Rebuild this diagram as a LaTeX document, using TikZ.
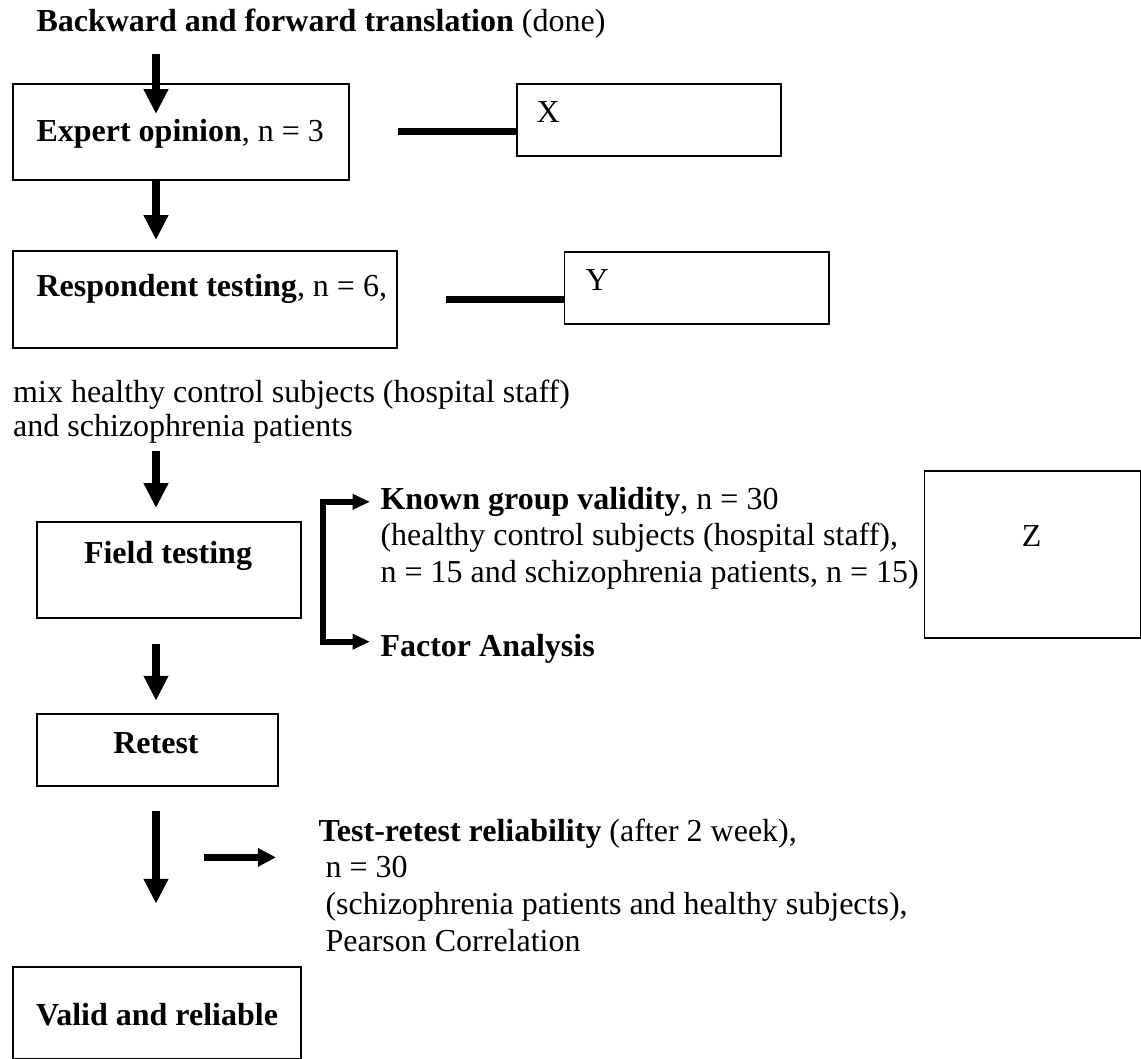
\documentclass[tikz,border=0pt]{standalone}
\usepackage{fontspec}
\setmainfont{Liberation Serif}
\usetikzlibrary{arrows.meta,calc}

\tikzset{
  box/.style 2 args={draw, line width=0.7pt, inner sep=0pt, anchor=north west,
    minimum width=#1*0.375pt, minimum height=#2*0.375pt},
  txt/.style={inner sep=0pt, anchor=base west},
  para/.style={inner sep=0pt, anchor=north west, align=left},
  flow/.style={line width=2.7pt, -{Triangle[length=9.3pt,width=8.7pt]}},
  side/.style={line width=2.4pt, -{Triangle[length=6.8pt,width=6.6pt]}},
  link/.style={line width=2.6pt},
  branch/.style={line width=2.4pt, {Triangle[length=6.5pt,width=5.5pt]}-{Triangle[length=6.5pt,width=5.5pt]}}
}

\begin{document}
\begin{tikzpicture}[x=0.375pt, y=-0.375pt, font=\fontsize{12}{13.8}\selectfont]
    \useasboundingbox (0,0) rectangle (1141,1059);
    \coordinate (spine) at (156,0);

    % main column
    \node[txt] (title) at (36,32) {\textbf{Backward and forward translation} (done)};
    \node[box={336.3}{96}] (expert) at (11.7,83) {};
    \node[txt] (experttxt) at (36,141.7) {\textbf{Expert opinion}, n = 3};
    \node[box={384.3}{97}] (respondent) at (11.7,250) {};
    \node[txt] (respondenttxt) at (36,297) {\textbf{Respondent testing}, n = 6,};
    \node[para, font=\fontsize{12}{13.1}\selectfont] (mix) at (12.7,379)
        {mix healthy control subjects (hospital staff)\\and schizophrenia patients};
    \node[box={264.3}{96}] (field) at (35.7,521) {};
    \node[anchor=base, inner sep=0pt] (fieldtxt) at (168,563) {\textbf{Field testing}};
    \node[box={241}{72.3}] (retest) at (35.7,712.7) {};
    \node[anchor=base, inner sep=0pt] (retesttxt) at (156,753) {\textbf{Retest}};
    \node[box={288.3}{91.8}] (valid) at (11.7,965.7) {};
    \node[anchor=base, inner sep=0pt] (validtxt) at (157,1025) {\textbf{Valid and reliable}};

    % side boxes
    \node[box={264}{72}] (xbox) at (516,83) {};
    \node[txt] (xtxt) at (536,123) {X};
    \node[box={264.4}{72}] (ybox) at (563.6,250.7) {};
    \node[txt] (ytxt) at (585,291) {Y};
    \node[box={216}{167}] (zbox) at (923.5,470) {};
    \node[anchor=base, inner sep=0pt] (ztxt) at (1031.7,546.7) {Z};

    % analyses
    \node[para] (known) at (380,486.4) {\textbf{Known group validity}, n = 30\\
        (healthy control subjects (hospital staff),\\
        n = 15 and schizophrenia patients, n = 15)};
    \node[txt] (factor) at (380,656.7) {\textbf{Factor Analysis}};
    \node[para] (test) at (318,818.1) {\textbf{Test-retest reliability} (after 2 week),\\
        \hspace*{.22em}n = 30\\
        \hspace*{.22em}(schizophrenia patients and healthy subjects),\\
        \hspace*{.22em}Pearson Correlation};

    % connectors
    \draw[flow] ($(title.south -| spine)+(0,15)$) -- ($(expert.north -| spine)+(0,31)$);
    \draw[flow] (expert.south -| spine) -- ($(respondent.north -| spine)+(0,-10)$);
    \draw[flow] ($(mix.south -| spine)+(0,7)$) -- ($(field.north -| spine)+(0,-13)$);
    \draw[flow] ($(field.south -| spine)+(0,25)$) -- ($(retest.north -| spine)+(0,-12)$);
    \draw[flow] ($(retest.south -| spine)+(0,24)$) -- ($(valid.north -| spine)+(0,-62)$);
    \draw[link] ($(expert.east)+(48,0)$) -- (expert.east -| xbox.west);
    \draw[link] ($(respondent.east)+(48,0)$) -- (respondent.east -| ybox.west);
    \coordinate (fork) at (323,570);
    \draw[branch] ($(known.north west)+(-10,15.4)$) -| (fork) |- ($(factor.base west)+(-10,-15)$);
    \draw[side] ($(test.north west -| spine)+(48,39.3)$) -- ($(test.north west)+(-42,39.3)$);
\end{tikzpicture}
\end{document}
